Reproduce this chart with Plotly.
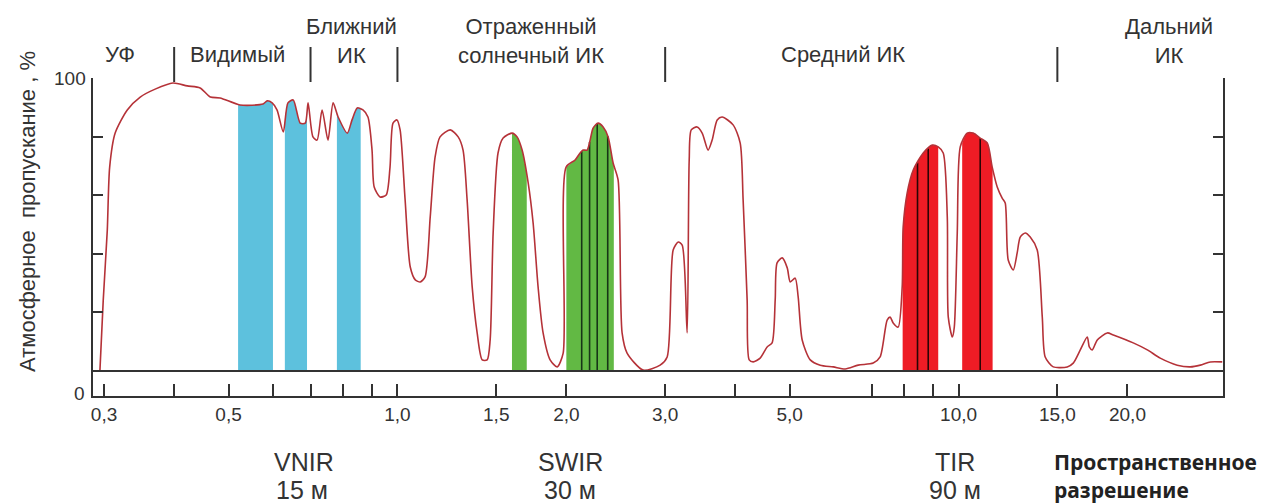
import numpy as np
import plotly.graph_objects as go

# Atmospheric transmission curve (wavelength in µm, transmission in %)
wavelength = [0.295, 0.299, 0.304, 0.307, 0.314, 0.330, 0.348, 0.370, 0.398, 0.422,
              0.445, 0.464, 0.483, 0.524, 0.576, 0.586, 0.598, 0.610, 0.626, 0.638,
              0.652, 0.671, 0.685, 0.693, 0.707, 0.719, 0.734, 0.752, 0.768, 0.784,
              0.814, 0.830, 0.848, 0.868, 0.886, 0.901, 0.909, 0.931, 0.955, 0.970,
              0.982, 0.998, 1.011, 1.032, 1.054, 1.076, 1.098, 1.120, 1.144, 1.167,
              1.191, 1.242, 1.283, 1.309, 1.331, 1.359, 1.387, 1.416, 1.445, 1.463,
              1.481, 1.511, 1.543, 1.601, 1.634, 1.668, 1.710, 1.745, 1.781, 1.818,
              1.871, 1.926, 1.974, 1.998, 2.073, 2.116, 2.142, 2.178, 2.205, 2.232,
              2.278, 2.326, 2.374, 2.423, 2.473, 2.514, 2.566, 2.741, 2.939, 3.025,
              3.100, 3.165, 3.217, 3.283, 3.311, 3.339, 3.420, 3.492, 3.578, 3.638,
              3.714, 3.791, 3.965, 4.082, 4.131, 4.200, 4.235, 4.306, 4.430, 4.559,
              4.653, 4.712, 4.749, 4.850, 4.951, 5.012, 5.115, 5.178, 5.264, 5.441,
              5.669, 5.981, 6.283, 6.625, 7.046, 7.248, 7.460, 7.553, 7.647, 7.805,
              7.935, 7.967, 8.100, 8.303, 8.651, 8.977, 9.200, 9.391, 9.548, 9.587,
              9.746, 9.827, 9.947, 10.07, 10.36, 10.62, 10.93, 11.25, 11.48, 11.72,
              11.96, 12.11, 12.26, 12.52, 12.72, 12.88, 13.15, 13.42, 13.81, 14.10,
              14.27, 14.75, 15.62, 16.01, 16.48, 16.96, 17.10, 17.31, 17.67, 18.41,
              18.87, 20.48, 21.70, 22.88, 24.53, 25.88, 26.97, 28.10, 29.51]
transmission = [0.3, 24.2, 48.0, 69.6, 81.2, 89.1, 93.5, 96.2, 98.3, 97.3,
                96.6, 93.5, 93.2, 90.8, 91.1, 92.2, 91.5, 89.1, 81.6, 91.5,
                92.5, 84.6, 84.6, 91.5, 79.9, 78.8, 89.1, 78.8, 91.5, 86.7,
                81.2, 85.7, 89.8, 89.1, 86.7, 75.4, 62.8, 59.4, 60.1, 69.6,
                84.6, 85.7, 82.3, 58.4, 35.5, 31.1, 30.4, 32.1, 52.6, 73.0,
                79.9, 82.3, 79.9, 75.4, 58.4, 28.7, 13.0, 3.8, 3.8, 10.6,
                47.1, 74.4, 79.5, 81.2, 79.9, 75.4, 64.2, 50.5, 28.7, 13.0,
                3.8, 1.4, 6.1, 69.6, 72.0, 74.4, 75.4, 75.4, 78.8, 82.9,
                84.6, 83.3, 79.9, 71.0, 65.2, 13.0, 6.1, 0.3, 2.0, 4.8,
                41.3, 44.0, 43.0, 13.0, 72.0, 82.3, 83.3, 81.2, 75.4, 78.8,
                85.7, 86.7, 84.0, 77.8, 58.4, 24.2, 3.8, 3.1, 4.4, 8.2,
                9.6, 24.2, 36.9, 38.6, 35.2, 30.4, 31.7, 25.3, 10.6, 3.8,
                2.0, 1.4, 0.7, 2.0, 2.7, 4.8, 17.4, 18.4, 16.4, 15.0,
                28.7, 49.1, 60.8, 68.6, 74.4, 77.1, 76.5, 74.4, 52.6, 18.4,
                11.6, 15.0, 47.1, 76.5, 81.2, 81.2, 79.5, 77.8, 69.6, 62.8,
                59.0, 57.3, 37.9, 34.5, 40.3, 45.7, 47.1, 45.7, 41.3, 18.4,
                4.8, 1.4, 1.4, 2.7, 7.2, 11.6, 8.2, 7.2, 10.6, 13.0,
                12.3, 9.6, 7.2, 4.4, 2.0, 1.4, 2.0, 3.1, 3.1]

# ASTER spectral bands (µm)
vnir_bands = [(0.52, 0.60), (0.63, 0.69), (0.78, 0.86)]
swir_bands = [(1.60, 1.70), (2.00, 2.43)]
swir_dividers = [2.13, 2.20, 2.27, 2.37]
tir_bands = [(7.95, 9.20), (10.15, 11.50)]
tir_dividers = [8.45, 8.83, 10.93]

# Axis ticks
tick_values = [0.3, 0.4, 0.5, 0.6, 0.7, 0.8, 0.9, 1.0, 1.5, 2.0, 3.0, 4.0, 5.0,
               7.0, 8.0, 9.0, 10.0, 15.0, 20.0]
tick_labels = ["0,3", "", "0,5", "", "", "", "", "1,0", "1,5", "2,0", "3,0", "",
               "5,0", "", "", "", "10,0", "15,0", "20,0"]

# Spectral regions
region_bounds = [0.4, 0.7, 1.0, 3.0, 15.0]

W, H = 1264, 504
L, R, T, B = 93, 1223, 78, 396
FONT = "Liberation Sans, Arial, sans-serif"
SMOOTH = 0.7

lw = np.log10(np.array(wavelength))
tr = np.array(transmission)


def curve_at(x):
    return float(np.interp(np.log10(x), lw, tr))


def band_curve(a, b):
    inner = [w for w in wavelength if a < w < b]
    xs = [a] + inner + [b]
    ys = [curve_at(v) for v in xs]
    return xs, ys


fig = go.Figure()

for bands, color in [(vnir_bands, "#5DC1DD"), (swir_bands, "#62B944"), (tir_bands, "#EE1C25")]:
    for a, b in bands:
        bx, by = band_curve(a, b)
        fig.add_trace(go.Scatter(x=bx, y=by, mode="lines", fill="tozeroy",
                                 fillcolor=color,
                                 line=dict(width=0, color=color, shape="spline", smoothing=SMOOTH),
                                 hoverinfo="skip", showlegend=False))

for dividers, color in [(swir_dividers, "#173517"), (tir_dividers, "#2a0505")]:
    for d in dividers:
        fig.add_trace(go.Scatter(x=[d, d], y=[0, curve_at(d)], mode="lines",
                                 line=dict(width=1.6, color=color),
                                 hoverinfo="skip", showlegend=False))

fig.add_trace(go.Scatter(x=wavelength, y=transmission, mode="lines",
                         line=dict(color="#B53238", width=1.6, shape="spline", smoothing=SMOOTH),
                         showlegend=False))

ymin = -8.53
fig.update_layout(
    width=W, height=H,
    margin=dict(l=L, r=W - R, t=T, b=H - B, pad=0),
    paper_bgcolor="white", plot_bgcolor="white",
    font=dict(family=FONT, color="#333333"),
    xaxis=dict(type="log", range=[np.log10(0.2867), np.log10(29.6)],
               tickmode="array", tickvals=tick_values, ticktext=tick_labels,
               ticks="inside", ticklen=12, tickwidth=1.5, tickcolor="#333333",
               showline=True, linecolor="#333333", linewidth=2,
               showgrid=False, zeroline=False,
               tickfont=dict(size=19, color="#333333", family=FONT)),
    yaxis=dict(range=[ymin, 100], tickmode="array", tickvals=[20, 40, 60, 80],
               ticks="inside", ticklen=10, tickwidth=1.5, tickcolor="#333333",
               showticklabels=False, showline=True, linecolor="#333333",
               linewidth=2, mirror="ticks", showgrid=False, zeroline=False),
)

fig.add_shape(type="line", xref="paper", yref="y", x0=0, x1=1, y0=0, y1=0,
              line=dict(color="#333333", width=2), layer="above")


def px(xp):
    return (xp - L) / (R - L)


def py(yp):
    return (B - yp) / (B - T)


for rb in region_bounds:
    fig.add_shape(type="line", xref="x", yref="paper", x0=rb, x1=rb,
                  y0=py(82), y1=py(47), line=dict(color="#333333", width=2))

ann = []
top_labels = [("УФ", 120, 54), ("Видимый", 237, 54), ("Ближний<br>ИК", 351, 41),
              ("Отраженный<br>солнечный ИК", 531, 41), ("Средний ИК", 843, 54),
              ("Дальний<br>ИК", 1169, 41)]
for t, x, y in top_labels:
    ann.append(dict(text=t, x=px(x), y=py(y), xref="paper", yref="paper",
                    showarrow=False, xanchor="center", yanchor="middle",
                    font=dict(size=22, color="#333333", family=FONT)))

bottom_labels = [("VNIR", 304, 462), ("15 м", 302, 490), ("SWIR", 570, 462),
                 ("30 м", 570, 490), ("TIR", 955, 462), ("90 м", 955, 490)]
for t, x, y in bottom_labels:
    ann.append(dict(text=t, x=px(x), y=py(y), xref="paper", yref="paper",
                    showarrow=False, xanchor="center", yanchor="middle",
                    font=dict(size=25, color="#333333", family=FONT)))

for t, y in [("<b>Пространственное</b>", 462), ("<b>разрешение</b>", 490)]:
    ann.append(dict(text=t, x=px(1052), y=py(y), xref="paper", yref="paper",
                    showarrow=False, xanchor="left", yanchor="middle",
                    font=dict(size=21, color="#222222", family="Noto Sans, sans-serif")))

ann.append(dict(text="100", x=px(88), y=100, xref="paper", yref="y",
                showarrow=False, xanchor="right", yanchor="middle",
                font=dict(size=19, color="#333333", family=FONT)))
ann.append(dict(text="0", x=px(87), y=py(393), xref="paper", yref="paper",
                showarrow=False, xanchor="right", yanchor="middle",
                font=dict(size=19, color="#333333", family=FONT)))
ann.append(dict(text="Атмосферное  пропускание , %", x=px(27), y=py(212),
                xref="paper", yref="paper", showarrow=False, textangle=-90,
                xanchor="center", yanchor="middle",
                font=dict(size=22, color="#333333", family=FONT)))

fig.update_layout(annotations=ann)
fig.write_html("out.html", config={"displayModeBar": False},
               post_script="document.body.style.margin='0';document.body.style.overflow='hidden';")
